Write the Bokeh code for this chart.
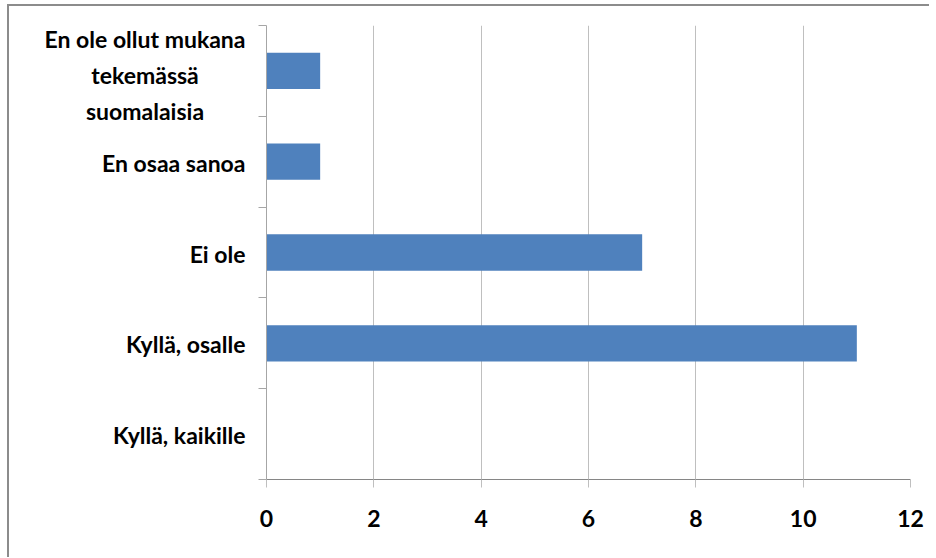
from bokeh.plotting import figure
from bokeh.layouts import row
from bokeh.models import Range1d, FixedTicker
from bokeh.core.properties import value
from bokeh.embed import file_html
from bokeh.resources import INLINE

# Data (bottom to top)
categories = [
    "Kyllä, kaikille",
    "Kyllä, osalle",
    "Ei ole",
    "En osaa sanoa",
    "En ole ollut mukana\ntekemässä\nsuomalaisia",
]
values = [0, 11, 7, 1, 1]
x_ticks = [0, 2, 4, 6, 8, 10, 12]

n = len(categories)
centers = [i + 0.5 for i in range(n)]
bounds = list(range(n + 1))

FONT = "Lato"
FSIZE = "23px"
H = 551
TOP = 19
BOTTOM = 78

y_range = Range1d(0, n)

# small vertical nudge: wrapped labels sit a little lower in the original
label_dy = [4 if "\n" in c else 1 for c in categories]

# ---- category label panel (left) ----
lab = figure(
    width=249, height=H,
    x_range=Range1d(0, 1), y_range=y_range,
    x_axis_location=None, y_axis_location=None,
    output_backend="svg", toolbar_location=None,
    min_border_left=0, min_border_right=0,
    min_border_top=TOP, min_border_bottom=BOTTOM,
)
lab.outline_line_color = None
lab.xgrid.grid_line_color = None
lab.ygrid.grid_line_color = None
lab.text(
    x=[1] * n, y=centers, text=categories,
    x_offset=-13, y_offset=label_dy, anchor="center_right",
    text_align="center", text_baseline="middle",
    text_font=value(FONT), text_font_style="bold", text_font_size=value(FSIZE),
    text_color="#000000", text_line_height=1.3,
)

# ---- chart panel ----
p = figure(
    width=671, height=H,
    x_range=Range1d(0, 12), y_range=y_range,
    output_backend="svg", toolbar_location=None,
    min_border_left=8, min_border_right=19,
    min_border_top=TOP, min_border_bottom=BOTTOM,
)
p.outline_line_color = None

p.hbar(y=centers, right=values, left=0, height=0.4,
       fill_color="#4F81BD", line_color=None)

p.xaxis.ticker = FixedTicker(ticks=x_ticks)
p.xaxis.axis_line_color = "#868686"
p.xaxis.major_tick_line_color = "#BFBFBF"
p.xaxis.major_tick_out = 8
p.xaxis.major_tick_in = 0
p.xaxis.minor_tick_line_color = None
p.xaxis.major_label_text_font = FONT
p.xaxis.major_label_text_font_style = "bold"
p.xaxis.major_label_text_font_size = FSIZE
p.xaxis.major_label_text_color = "#000000"
p.xaxis.major_label_standoff = 22

p.yaxis.ticker = FixedTicker(ticks=centers, minor_ticks=bounds)
p.yaxis.major_label_overrides = {c: "" for c in centers}
p.yaxis.axis_line_color = "#A6A6A6"
p.yaxis.major_tick_line_color = None
p.yaxis.major_tick_out = 0
p.yaxis.major_tick_in = 0
p.yaxis.minor_tick_line_color = "#A6A6A6"
p.yaxis.minor_tick_out = 8
p.yaxis.minor_tick_in = 0
p.yaxis.major_label_standoff = 0

p.xgrid.grid_line_color = "#BFBFBF"
p.ygrid.grid_line_color = None

layout = row(lab, p, spacing=0)
layout.styles = {
    "border-top": "2px solid #8c8c8c",
    "border-left": "2px solid #8c8c8c",
    "margin-left": "7px",
    "margin-top": "4px",
}

open("out.html", "w").write(file_html(layout, INLINE))
